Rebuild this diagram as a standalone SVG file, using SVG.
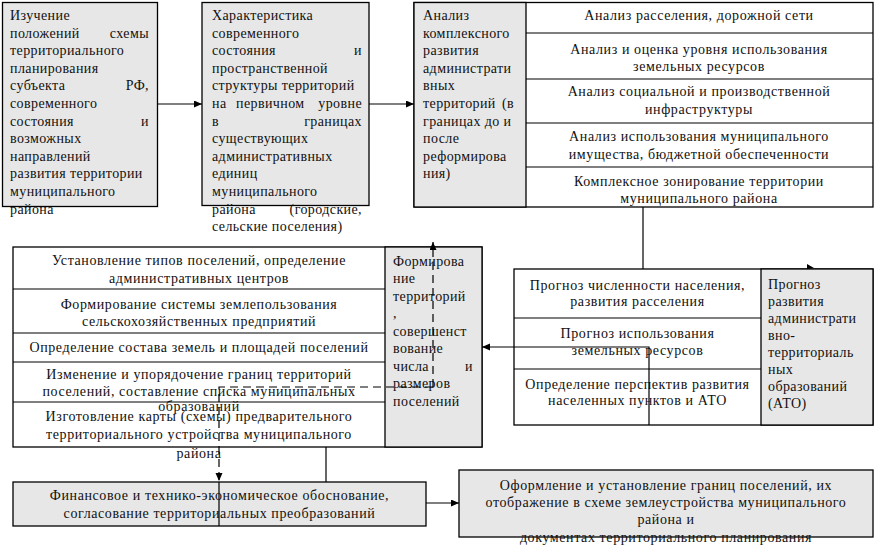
<svg xmlns="http://www.w3.org/2000/svg" width="874" height="546" viewBox="0 0 874 546">
<defs>
<style>
.b{fill:#ffffff;stroke:#000;stroke-width:1.3}
.g{fill:#e7e7e7;stroke:#000;stroke-width:1.3}
.ln{stroke:#000;stroke-width:1.2;fill:none}
.c{stroke:#000;stroke-width:1.2;fill:none}
.d{stroke:#000;stroke-width:1.2;fill:none;stroke-dasharray:8,5}
text{font-family:"Liberation Serif","Times New Roman",serif;font-size:14px;fill:#111;letter-spacing:0.4px}
.m{text-anchor:middle;letter-spacing:0.6px}
.e{text-anchor:end}
</style>
<marker id="ah" markerWidth="9" markerHeight="8" refX="8" refY="3.5" orient="auto" markerUnits="userSpaceOnUse">
<path d="M0,0 L8,3.5 L0,7 z" fill="#000"/>
</marker>
</defs>

<g id="node-study">
<rect class="g" x="2.5" y="2.5" width="155" height="204"/>
<text x="10" y="20">Изучение</text>
<text x="10" y="37.6">положений</text><text class="e" x="149" y="37.6">схемы</text>
<text x="10" y="55.2">территориального</text>
<text x="10" y="72.8">планирования</text>
<text x="10" y="90.4">субъекта</text><text class="e" x="149" y="90.4">РФ,</text>
<text x="10" y="108">современного</text>
<text x="10" y="125.6">состояния</text><text class="e" x="149" y="125.6">и</text>
<text x="10" y="143.2">возможных</text>
<text x="10" y="160.8">направлений</text>
<text x="10" y="178.4">развития территории</text>
<text x="10" y="196">муниципального</text>
<text x="10" y="213.6">района</text>
</g>

<g id="node-characteristic">
<rect class="g" x="202" y="2.5" width="167" height="203"/>
<text x="212" y="20">Характеристика</text>
<text x="212" y="37.6">современного</text>
<text x="212" y="55.2">состояния</text><text class="e" x="362" y="55.2">и</text>
<text x="212" y="72.8">пространственной</text>
<text x="212" y="90.4">структуры территорий</text>
<text x="212" y="108">на</text><text x="236" y="108">первичном</text><text class="e" x="362" y="108">уровне</text>
<text x="212" y="125.6">в</text><text class="e" x="362" y="125.6">границах</text>
<text x="212" y="143.2">существующих</text>
<text x="212" y="160.8">административных</text>
<text x="212" y="178.4">единиц</text>
<text x="212" y="196">муниципального</text>
<text x="212" y="213.6">района</text><text class="e" x="362" y="213.6">(городские,</text>
<text x="212" y="231.2">сельские поселения)</text>
</g>

<g id="node-analysis">
<rect class="b" x="414" y="2.5" width="459" height="204.5"/>
<rect class="g" x="414" y="2.5" width="112" height="204.5"/>
<line class="ln" x1="526" y1="33" x2="873" y2="33"/>
<line class="ln" x1="526" y1="79" x2="873" y2="79"/>
<line class="ln" x1="526" y1="123" x2="873" y2="123"/>
<line class="ln" x1="526" y1="167" x2="873" y2="167"/>
<text x="423" y="20">Анализ</text>
<text x="423" y="37.6">комплексного</text>
<text x="423" y="55.2">развития</text>
<text x="423" y="72.8">администрати</text>
<text x="423" y="90.4">вных</text>
<text x="423" y="108">территорий</text><text class="e" x="514" y="108">(в</text>
<text x="423" y="125.6">границах до и</text>
<text x="423" y="143.2">после</text>
<text x="423" y="160.8">реформирова</text>
<text x="423" y="178.4">ния)</text>
<text class="m" x="699" y="19.5">Анализ расселения, дорожной сети</text>
<text class="m" x="699" y="53.5">Анализ и оценка уровня использования</text>
<text class="m" x="699" y="70.5">земельных ресурсов</text>
<text class="m" x="699" y="95.5">Анализ социальной и производственной</text>
<text class="m" x="699" y="113.5">инфраструктуры</text>
<text class="m" x="699" y="140.5">Анализ использования муниципального</text>
<text class="m" x="699" y="158.5">имущества, бюджетной обеспеченности</text>
<text class="m" x="699" y="185.5">Комплексное зонирование территории</text>
<text class="m" x="699" y="202.5">муниципального района</text>
</g>

<g id="node-forecast">
<rect class="b" x="514" y="269" width="359" height="156"/>
<rect class="g" x="761" y="269" width="112" height="156"/>
<line class="ln" x1="514" y1="318" x2="761" y2="318"/>
<line class="ln" x1="514" y1="369" x2="761" y2="369"/>
<text class="m" x="637.5" y="289.5">Прогноз численности населения,</text>
<text class="m" x="637.5" y="305.5">развития расселения</text>
<text class="m" x="637.5" y="337.5">Прогноз использования</text>
<text class="m" x="637.5" y="354.5">земельных ресурсов</text>
<text class="m" x="637.5" y="388.5">Определение перспектив развития</text>
<text class="m" x="637.5" y="404.5">населенных пунктов и АТО</text>
<text x="768" y="288.5">Прогноз</text>
<text x="768" y="305.5">развития</text>
<text x="768" y="322.5">администрати</text>
<text x="768" y="339.5">вно-</text>
<text x="768" y="356.5">территориаль</text>
<text x="768" y="373.5">ных</text>
<text x="768" y="390.5">образований</text>
<text x="768" y="408">(АТО)</text>
</g>

<g id="node-formation">
<rect class="b" x="13" y="247" width="469" height="200"/>
<rect class="g" x="385" y="247" width="97" height="200"/>
<line class="ln" x1="13" y1="289" x2="385" y2="289"/>
<line class="ln" x1="13" y1="333" x2="385" y2="333"/>
<line class="ln" x1="13" y1="362" x2="385" y2="362"/>
<line class="ln" x1="13" y1="402" x2="385" y2="402"/>
<text class="m" x="199" y="264.5">Установление типов поселений, определение</text>
<text class="m" x="199" y="282.5">административных центров</text>
<text class="m" x="199" y="308.5">Формирование системы землепользования</text>
<text class="m" x="199" y="325.5">сельскохозяйственных предприятий</text>
<text class="m" x="199" y="351.5">Определение состава земель и площадей поселений</text>
<text class="m" x="199" y="378.5">Изменение и упорядочение границ территорий</text>
<text class="m" x="199" y="395.5">поселений, составление списка муниципальных</text>
<text class="m" x="199" y="410.5">образований</text>
<text class="m" x="199" y="420.5">Изготовление карты (схемы) предварительного</text>
<text class="m" x="199" y="438.5">территориального устройства муниципального</text>
<text class="m" x="199" y="457.5">района</text>
<text x="393" y="265.5">Формирова</text>
<text x="393" y="283">ние</text>
<text x="393" y="300.5">территорий</text>
<text x="393" y="318">,</text>
<text x="393" y="335.5">совершенст</text>
<text x="393" y="353">вование</text>
<text x="393" y="370.5">числа</text><text class="e" x="473" y="370.5">и</text>
<text x="393" y="388">размеров</text>
<text x="393" y="405.5">поселений</text>
</g>

<g id="node-finance">
<rect class="g" x="13" y="482" width="413" height="44"/>
<text class="m" x="219.5" y="499.5">Финансовое и технико-экономическое обоснование,</text>
<text class="m" x="219.5" y="517.5">согласование территориальных преобразований</text>
</g>

<g id="node-registration">
<rect class="g" x="459" y="470" width="414" height="67"/>
<text class="m" x="666" y="489.5">Оформление и установление границ поселений, их</text>
<text class="m" x="666" y="506.5">отображение в схеме землеустройства муниципального</text>
<text class="m" x="666" y="523.5">района и</text>
<text class="m" x="666" y="541.5">документах территориального планирования</text>
</g>

<g id="connectors">
<line class="c" x1="157" y1="104" x2="202" y2="104" marker-end="url(#ah)"/>
<line class="c" x1="369" y1="104" x2="414" y2="104" marker-end="url(#ah)"/>
<line class="c" x1="643" y1="207" x2="643" y2="269"/>
<path d="M807,264 L814,268 L807,269 z" fill="#000"/>
<path class="c" d="M649,425 V347 H482" marker-end="url(#ah)"/>
<path class="d" d="M433,387 V242" marker-end="url(#ah)"/>
<path class="d" d="M433,387 H219 V481" marker-end="url(#ah)"/>
<line class="c" x1="219" y1="482" x2="219" y2="526"/>
<line class="c" x1="326" y1="447" x2="326" y2="482"/>
<line class="c" x1="426" y1="503" x2="459" y2="503" marker-end="url(#ah)"/>
</g>
</svg>
